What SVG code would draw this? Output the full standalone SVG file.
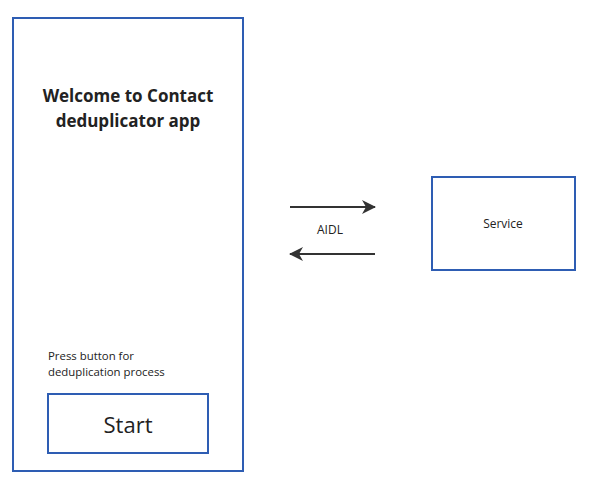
<svg xmlns="http://www.w3.org/2000/svg" width="590" height="489" viewBox="0 0 590 489">
<style>
.box{fill:#fff;stroke:#2e5db3;stroke-width:2}
.t{font-family:"Open Sans","Noto Sans",sans-serif;fill:#222}
.c{stroke:#333;stroke-width:2;fill:none}
</style>
<defs>
<marker id="ah" viewBox="0 0 14 14" refX="13" refY="7" markerWidth="14" markerHeight="14" orient="auto" markerUnits="userSpaceOnUse">
<path d="M0,0 L14,7 L0,14 L4,7 Z" fill="#333"/>
</marker>
</defs>
<rect width="590" height="489" fill="#fff"/>
<g id="app">
<rect class="box" x="13" y="18" width="230" height="453"/>
<text class="t" x="128" y="102" text-anchor="middle" font-size="17" font-weight="bold">Welcome to Contact</text>
<text class="t" x="128" y="127" text-anchor="middle" font-size="17" font-weight="bold">deduplicator app</text>
<text class="t" x="48" y="360" font-size="11.4">Press button for</text>
<text class="t" x="48" y="376" font-size="11.4">deduplication process</text>
</g>
<g id="start">
<rect class="box" x="48" y="394" width="160" height="59"/>
<text class="t" x="128" y="433" text-anchor="middle" font-size="22">Start</text>
</g>
<g id="service">
<rect class="box" x="432" y="177" width="143" height="93"/>
<text class="t" x="503" y="228" text-anchor="middle" font-size="12">Service</text>
</g>
<g id="connectors">
<line class="c" x1="290" y1="207" x2="375" y2="207" marker-end="url(#ah)"/>
<line class="c" x1="375" y1="254" x2="290" y2="254" marker-end="url(#ah)"/>
<text class="t" x="330" y="234" text-anchor="middle" font-size="12">AIDL</text>
</g>
</svg>
